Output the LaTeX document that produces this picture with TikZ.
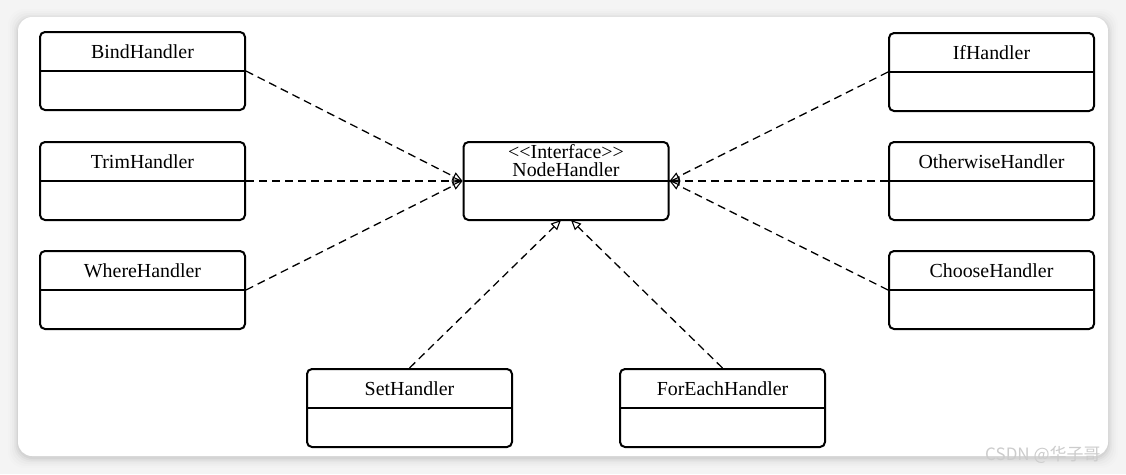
\documentclass[tikz,border=0pt]{standalone}
\usepackage{fontspec}
\setmainfont{Liberation Serif}
\newfontfamily\cjkwm{Noto Sans CJK SC}
\usetikzlibrary{arrows.meta}
\definecolor{bgout}{RGB}{244,244,244}
\tikzset{
  cls/.style={draw=black, line width=2pt, rounded corners=5pt, fill=white,
    minimum width=205pt, minimum height=78pt, inner sep=0pt},
  divider/.style={line width=2pt},
  title/.style={font=\fontsize{19.9}{18}\selectfont, inner sep=0pt, align=center},
  realize/.style={dashed, dash pattern=on 8pt off 5pt, line width=1.3pt,
    -{Triangle[open, length=10pt, width=9pt, line width=1.1pt]}},
}
\newcommand{\umlclass}[3]{%
  \node[cls] (#1) at (#2) {};
  \draw[divider] (#1.west) -- (#1.east);
  \node[title] (#1t) at ([yshift=19.5pt]#1.center) {#3};
}
\begin{document}
\begin{tikzpicture}[x=1pt,y=-1pt]
\useasboundingbox (0,0) rectangle (1126,474);
\fill[bgout] (0,0) rectangle (1126,474);
% card shadow
\foreach \s/\o in {10/0.008,8/0.012,6/0.016,4/0.022,2.5/0.03,1/0.04}{
  \fill[black, opacity=\o, rounded corners=16pt] (18-\s,17-\s+2) rectangle (1108+\s,456+\s+2);
}
\fill[white, rounded corners=14pt] (18,17) rectangle (1108,456);

\umlclass{bind}{142.5,71}{BindHandler}
\umlclass{trim}{142.5,181}{TrimHandler}
\umlclass{where}{142.5,290}{WhereHandler}
\umlclass{ifh}{991.5,72}{IfHandler}
\umlclass{other}{991.5,181}{OtherwiseHandler}
\umlclass{choose}{991.5,290}{ChooseHandler}
\umlclass{seth}{409.5,408}{SetHandler}
\umlclass{fore}{722.5,408}{ForEachHandler}

\node[cls] (nh) at (566,181) {};
\draw[divider] (nh.west) -- (nh.east);
\node[title] (nht) at ([yshift=20pt]nh.center) {<\kern0pt<Interface>\kern0pt>\\NodeHandler};

\coordinate (nhs1) at ([xshift=-5pt,yshift=1pt]nh.south);
\coordinate (nhs2) at ([xshift=5pt,yshift=1pt]nh.south);

\draw[realize] (bind.east) -- (nh.west);
\draw[realize] (trim.east) -- (nh.west);
\draw[realize] (where.east) -- (nh.west);
\draw[realize] (ifh.west) -- (nh.east);
\draw[realize] (other.west) -- (nh.east);
\draw[realize] (choose.west) -- (nh.east);
\draw[realize] (seth.north) -- (nhs1);
\draw[realize] (fore.north) -- (nhs2);

\node[text=gray!40, font=\cjkwm\fontsize{17}{17}\selectfont, anchor=west, inner sep=0pt] (wm) at (985,455) {CSDN @华子哥};
\end{tikzpicture}
\end{document}
